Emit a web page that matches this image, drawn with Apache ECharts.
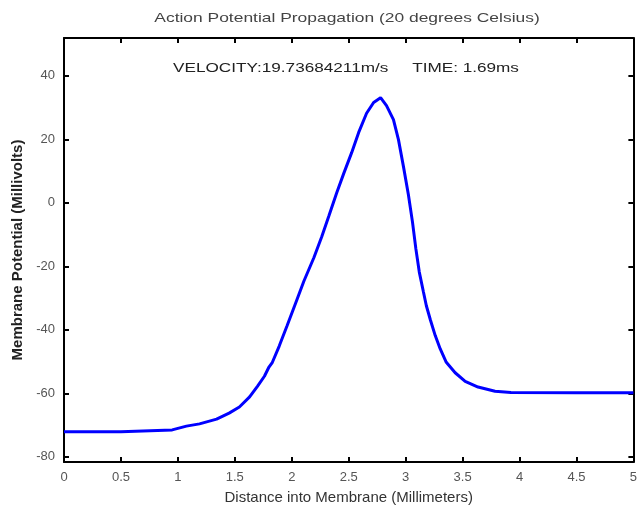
<!DOCTYPE html>
<html>
<head>
<meta charset="utf-8">
<script src="https://cdn.jsdelivr.net/npm/echarts@6/dist/echarts.min.js"></script>
<style>
html,body{margin:0;padding:0;background:#fff;}
#c{width:640px;height:510px;}
</style>
</head>
<body>
<div id="c"></div>
<script>
const titleText = 'Action Potential Propagation (20 degrees Celsius)';
const infoText = 'VELOCITY:19.73684211m/s     TIME: 1.69ms';
const xName = 'Distance into Membrane (Millimeters)';
const yName = 'Membrane Potential (Millivolts)';
const yTicks = [-80, -60, -40, -20, 0, 20, 40];
const distance = [0, 0.5, 0.95, 1.075, 1.19, 1.34, 1.45, 1.54, 1.63, 1.70, 1.76, 1.80, 1.83, 1.89, 1.958, 2.037, 2.107, 2.194, 2.264, 2.325, 2.395, 2.456, 2.526, 2.587, 2.657, 2.719, 2.780, 2.832, 2.893, 2.937, 2.981, 3.024, 3.060, 3.090, 3.120, 3.156, 3.182, 3.217, 3.260, 3.304, 3.357, 3.435, 3.523, 3.636, 3.785, 3.925, 4.5, 5];
const potential = [-72.1, -72.1, -71.5, -70.3, -69.6, -68.1, -66.2, -64.3, -61.1, -57.7, -54.6, -51.7, -50.2, -45.1, -38.8, -31.3, -24.6, -17.3, -10.6, -4.2, 3.2, 9.2, 15.8, 22.1, 28.2, 31.6, 33.1, 30.6, 26.2, 19.9, 11.4, 2.6, -6.0, -14.5, -21.8, -28.0, -32.4, -36.8, -41.8, -46.0, -50.2, -53.5, -56.2, -58.0, -59.3, -59.7, -59.8, -59.8];

const chart = echarts.init(document.getElementById('c'), null, {renderer: 'canvas'});
const font = 'Liberation Sans, Arial, sans-serif';
const lineStyle = {color: '#000', width: 2};
const tickStyle = {inside: true, length: 5, lineStyle: {color: '#000', width: 2}};
chart.setOption({
  animation: false,
  graphic: [{
    type: 'text', x: 347, y: 18, scaleX: 1.34,
    style: {text: titleText, font: '13px ' + font, fill: '#444', align: 'center', verticalAlign: 'middle'}
  }, {
    type: 'text', x: 346, y: 68, scaleX: 1.32,
    style: {text: infoText, font: '13px ' + font, fill: '#222', align: 'center', verticalAlign: 'middle'}
  }],
  grid: {left: 64, right: 4, top: 38, bottom: 47, containLabel: false},
  xAxis: [{
    type: 'value', min: 0, max: 5, interval: 0.5, position: 'bottom',
    name: xName, nameLocation: 'middle', nameGap: 28,
    nameTextStyle: {fontFamily: font, fontSize: 15, color: '#333'},
    axisLine: {show: true, onZero: false, lineStyle: lineStyle},
    axisTick: tickStyle,
    axisLabel: {fontFamily: font, fontSize: 13, color: '#555', margin: 9},
    splitLine: {show: false}
  }, {
    type: 'value', min: 0, max: 5, interval: 0.5, position: 'top',
    axisLine: {show: true, onZero: false, lineStyle: lineStyle},
    axisTick: tickStyle, axisLabel: {show: false}, splitLine: {show: false}
  }],
  yAxis: [{
    type: 'value', min: -81.6, max: 51.9, position: 'left',
    name: yName, nameLocation: 'middle', nameGap: 38,
    nameTextStyle: {fontFamily: font, fontSize: 15, fontWeight: 'bold', color: '#222'},
    axisLine: {show: true, onZero: false, lineStyle: lineStyle},
    axisTick: Object.assign({customValues: yTicks}, tickStyle),
    axisLabel: {customValues: yTicks, fontFamily: font, fontSize: 13, color: '#555', margin: 9},
    splitLine: {show: false}
  }, {
    type: 'value', min: -81.6, max: 51.9, position: 'right',
    axisLine: {show: true, onZero: false, lineStyle: lineStyle},
    axisTick: Object.assign({customValues: yTicks}, tickStyle),
    axisLabel: {show: false}, splitLine: {show: false}
  }],
  series: [{
    type: 'line', xAxisIndex: 0, yAxisIndex: 0,
    data: distance.map((d, i) => [d, potential[i]]),
    showSymbol: false, smooth: false,
    lineStyle: {color: '#0000ff', width: 3}
  }]
});
</script>
</body>
</html>
